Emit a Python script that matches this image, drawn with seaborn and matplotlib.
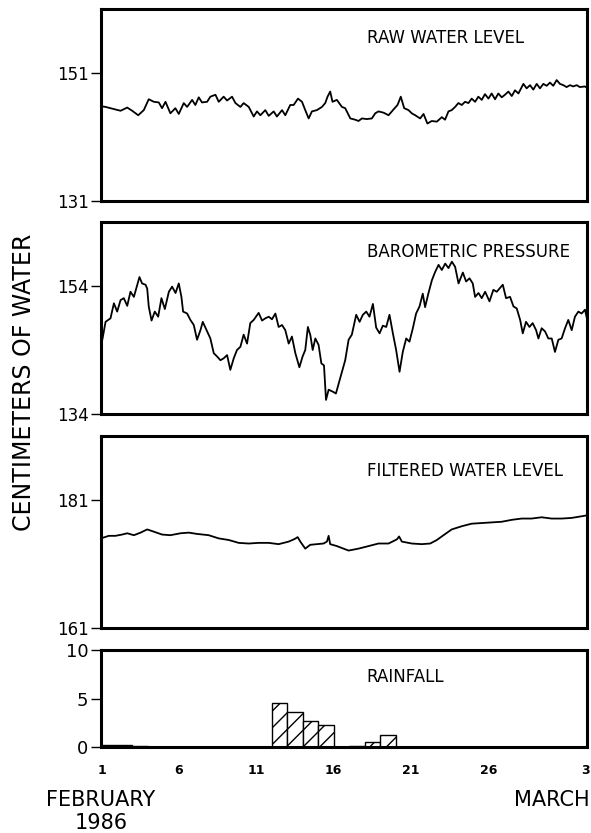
import numpy as np
import pandas as pd
import matplotlib
matplotlib.use("Agg")
import matplotlib.pyplot as plt
import seaborn as sns

sns.set_style("ticks")
plt.rcParams['font.family'] = ['DejaVu Sans']
plt.rcParams['hatch.linewidth'] = 1.0
plt.rcParams['text.color'] = 'black'
plt.rcParams['xtick.color'] = 'black'
plt.rcParams['ytick.color'] = 'black'

# days counted from 1 February 1986 (day 1 = Feb 1)
raw_days = [1.0, 1.26, 1.58, 1.90, 2.23, 2.66, 2.98, 3.37, 3.73, 4.05,
            4.38, 4.70, 4.91, 5.13, 5.45, 5.77, 5.99, 6.31, 6.53, 6.85,
            7.06, 7.28, 7.49, 7.82, 8.03, 8.36, 8.57, 8.89, 9.11, 9.43,
            9.65, 9.97, 10.18, 10.51, 10.83, 11.04, 11.26, 11.58, 11.80, 12.12,
            12.33, 12.66, 12.87, 13.19, 13.41, 13.69, 13.95, 14.16, 14.38, 14.59,
            14.91, 15.24, 15.45, 15.60, 15.77, 15.92, 16.20, 16.53, 16.74, 17.07,
            17.39, 17.60, 17.82, 18.14, 18.46, 18.68, 18.89, 19.22, 19.54, 19.86,
            20.12, 20.33, 20.55, 20.83, 21.04, 21.26, 21.58, 21.80, 22.05, 22.33,
            22.66, 22.98, 23.19, 23.41, 23.62, 23.84, 24.05, 24.27, 24.48, 24.70,
            24.91, 25.13, 25.34, 25.56, 25.77, 25.99, 26.20, 26.42, 26.63, 26.85,
            27.06, 27.28, 27.50, 27.71, 27.93, 28.25, 28.46, 28.68, 28.89, 29.11,
            29.32, 29.54, 29.75, 29.97, 30.18, 30.40, 30.61, 30.83, 31.04, 31.26,
            31.47, 31.69, 31.90, 32.22, 32.35]
raw_level = [145.8, 145.7, 145.5, 145.3, 145.1, 145.6, 145.1, 144.4, 145.2, 146.9,
             146.5, 146.4, 145.5, 146.5, 144.7, 145.5, 144.6, 146.3, 145.7, 146.8,
             146.0, 147.2, 146.4, 146.5, 147.3, 147.6, 146.5, 147.3, 146.7, 147.3,
             146.3, 145.7, 146.3, 145.7, 144.2, 145.0, 144.4, 145.2, 144.3, 145.0,
             144.2, 145.2, 144.4, 146.0, 146.0, 147.0, 146.5, 145.2, 143.9, 145.0,
             145.2, 145.7, 146.3, 147.3, 148.1, 146.5, 146.8, 145.7, 145.5, 143.9,
             143.7, 143.5, 143.9, 143.8, 143.9, 144.7, 145.0, 144.8, 144.4, 145.3,
             146.0, 147.3, 145.5, 145.2, 144.7, 144.4, 143.9, 144.6, 143.1, 143.5,
             143.4, 144.1, 143.7, 145.0, 145.2, 145.7, 146.3, 146.0, 146.5, 146.3,
             147.0, 146.5, 147.3, 146.8, 147.7, 147.0, 147.8, 146.9, 147.8, 147.2,
             147.6, 148.1, 147.4, 148.3, 147.8, 149.3, 148.6, 149.1, 148.4, 149.3,
             148.6, 149.3, 149.0, 149.5, 149.0, 149.9, 149.3, 149.1, 148.8, 149.1,
             148.9, 149.1, 148.8, 148.9, 148.7]

baro_days = [1.0, 1.09, 1.26, 1.58, 1.80, 2.01, 2.23, 2.44, 2.66, 2.87,
             3.09, 3.24, 3.45, 3.62, 3.84, 3.95, 4.05, 4.23, 4.44, 4.66,
             4.87, 5.09, 5.35, 5.56, 5.78, 5.99, 6.16, 6.27, 6.53, 6.74,
             6.96, 7.17, 7.39, 7.54, 7.82, 8.03, 8.25, 8.46, 8.68, 8.89,
             9.11, 9.32, 9.54, 9.75, 9.97, 10.18, 10.40, 10.61, 10.83, 11.15,
             11.37, 11.58, 11.80, 12.01, 12.23, 12.44, 12.66, 12.87, 13.09, 13.30,
             13.52, 13.78, 13.99, 14.16, 14.33, 14.49, 14.64, 14.81, 15.02, 15.20,
             15.37, 15.50, 15.67, 15.93, 16.14, 16.42, 16.74, 16.96, 17.17, 17.45,
             17.67, 17.88, 18.10, 18.31, 18.53, 18.74, 18.96, 19.17, 19.39, 19.60,
             19.82, 20.03, 20.25, 20.46, 20.68, 20.89, 21.11, 21.32, 21.54, 21.75,
             21.90, 22.12, 22.34, 22.55, 22.77, 22.98, 23.20, 23.41, 23.63, 23.84,
             24.06, 24.34, 24.55, 24.77, 24.98, 25.13, 25.35, 25.56, 25.78, 26.06,
             26.31, 26.53, 26.92, 27.13, 27.39, 27.61, 27.82, 28.04, 28.21, 28.42,
             28.64, 28.85, 29.07, 29.22, 29.43, 29.65, 29.86, 30.08, 30.29, 30.51,
             30.72, 30.94, 31.15, 31.37, 31.58, 31.80, 32.01, 32.23, 32.35]
baro_level = [145.0, 146.1, 148.4, 148.95, 151.3, 150.0, 151.8, 152.1, 150.9, 153.1,
              152.3, 153.6, 155.4, 154.4, 154.2, 153.6, 150.8, 148.6, 150.0, 149.2,
              152.1, 150.4, 153.1, 153.9, 152.9, 154.4, 152.3, 150.0, 149.7, 148.7,
              147.9, 145.6, 147.1, 148.4, 146.9, 145.8, 143.5, 143.0, 142.4, 142.7,
              143.2, 140.9, 142.7, 144.0, 144.5, 146.4, 145.0, 148.2, 148.7, 149.8,
              148.6, 148.95, 149.2, 148.8, 149.7, 147.6, 147.9, 147.1, 145.0, 146.1,
              143.5, 141.3, 143.0, 144.0, 147.6, 146.3, 144.0, 145.8, 144.8, 141.9,
              141.6, 136.2, 137.8, 137.5, 137.2, 139.6, 142.4, 145.6, 146.4, 149.5,
              148.4, 149.5, 150.0, 149.2, 151.2, 147.5, 146.6, 147.8, 147.6, 149.5,
              146.6, 144.0, 140.6, 143.7, 145.8, 145.3, 147.4, 149.7, 150.8, 152.8,
              150.7, 152.9, 154.9, 156.2, 157.3, 156.5, 157.5, 156.8, 157.8, 157.0,
              154.4, 156.1, 154.7, 155.2, 154.4, 152.3, 152.9, 152.1, 153.1, 151.6,
              153.4, 153.1, 154.2, 152.1, 152.3, 150.8, 150.5, 148.7, 146.6, 148.4,
              147.6, 148.2, 147.1, 145.8, 147.4, 146.9, 145.8, 145.8, 143.7, 145.6,
              145.8, 147.4, 148.7, 147.1, 149.2, 150.0, 149.7, 150.3, 148.95]

filt_days = [1.0, 1.09, 1.47, 1.90, 2.33, 2.66, 3.09, 3.52, 3.95, 4.38,
             4.91, 5.45, 6.10, 6.63, 7.17, 7.92, 8.57, 9.22, 9.86, 10.51,
             11.15, 11.80, 12.44, 13.09, 13.47, 13.67, 13.84, 14.16, 14.48, 14.91,
             15.34, 15.56, 15.67, 15.77, 16.20, 16.63, 16.96, 17.60, 18.25, 18.89,
             19.54, 20.08, 20.22, 20.40, 21.04, 21.69, 22.23, 22.66, 23.09, 23.62,
             24.27, 24.91, 25.56, 26.20, 26.85, 27.50, 28.14, 28.78, 29.43, 30.07,
             30.72, 31.37, 32.12, 32.35]
filt_level = [175.0, 175.1, 175.4, 175.4, 175.6, 175.8, 175.5, 175.9, 176.4, 176.05,
              175.6, 175.5, 175.8, 175.9, 175.7, 175.5, 175.0, 174.75, 174.3, 174.2,
              174.3, 174.3, 174.1, 174.5, 174.9, 175.2, 174.5, 173.4, 174.0, 174.1,
              174.2, 174.5, 175.4, 174.1, 173.8, 173.4, 173.1, 173.4, 173.8, 174.2,
              174.2, 174.85, 175.3, 174.5, 174.2, 174.1, 174.2, 174.75, 175.5, 176.4,
              176.9, 177.3, 177.4, 177.5, 177.6, 177.9, 178.1, 178.1, 178.3, 178.1,
              178.1, 178.2, 178.5, 178.6]

rain_days = [1, 2, 3, 12, 13, 14, 15, 17, 18, 19]
rain_cm = [0.2, 0.2, 0.1, 4.5, 3.6, 2.7, 2.3, 0.1, 0.5, 1.2]

raw = pd.DataFrame({'day': raw_days, 'level': raw_level})
baro = pd.DataFrame({'day': baro_days, 'level': baro_level})
filt = pd.DataFrame({'day': filt_days, 'level': filt_level})
rain = pd.DataFrame({'day': rain_days, 'cm': rain_cm})

fig = plt.figure(figsize=(5.91, 8.33), dpi=100)
left, width = 0.171, 0.822
ax1 = fig.add_axes([left, 0.7587, width, 0.2305])
ax2 = fig.add_axes([left, 0.5030, width, 0.2305])
ax3 = fig.add_axes([left, 0.2461, width, 0.2305])
ax4 = fig.add_axes([left, 0.1032, width, 0.1164])

line_kw = dict(color='black', linewidth=1.3, estimator=None, sort=False)
sns.lineplot(data=raw, x='day', y='level', ax=ax1, **line_kw)
sns.lineplot(data=baro, x='day', y='level', ax=ax2, **line_kw)
sns.lineplot(data=filt, x='day', y='level', ax=ax3, **line_kw)
sns.histplot(data=rain, x='day', weights='cm', binwidth=1, binrange=(1, 32),
             ax=ax4, color='white', edgecolor='black', linewidth=1.0, alpha=1,
             hatch='//')

panels = [(ax1, 131, 161, [131, 151], 'RAW WATER LEVEL', 0.85),
          (ax2, 134, 164, [134, 154], 'BAROMETRIC PRESSURE', 0.844),
          (ax3, 161, 191, [161, 181], 'FILTERED WATER LEVEL', 0.82),
          (ax4, 0, 10, [0, 5, 10], 'RAINFALL', 0.72)]

for ax, lo, hi, yt, title, ty in panels:
    ax.set_xlim(0.97, 32.35)
    ax.set_ylim(lo, hi)
    ax.set_yticks(yt)
    ax.set_xlabel('')
    ax.set_ylabel('')
    for s in ax.spines.values():
        s.set_visible(True)
        s.set_linewidth(2.2)
        s.set_color('black')
    ax.tick_params(axis='y', direction='out', length=7, width=1, pad=2,
                   labelsize=12, colors='black')
    ax.tick_params(axis='x', length=0)
    ax.set_xticks([])
    ax.text(0.547, ty, title, transform=ax.transAxes, fontsize=12,
            ha='left', va='center', color='black')

ax4.tick_params(axis='y', labelsize=13)
ax4.set_xticks([1, 6, 11, 16, 21, 26, 32.25])
ax4.set_xticklabels(['1', '6', '11', '16', '21', '26', '3'],
                    fontsize=9, fontweight='bold')
ax4.tick_params(axis='x', length=0, pad=12, colors='black')

fig.text(0.171, 1 - 800 / 833, 'FEBRUARY', fontsize=15, ha='center', va='center')
fig.text(0.171, 1 - 823 / 833, '1986', fontsize=15, ha='center', va='center')
fig.text(0.998, 1 - 800 / 833, 'MARCH', fontsize=15, ha='right', va='center')
fig.text(0.04, 1 - 382 / 833, 'CENTIMETERS OF WATER', rotation=90,
         fontsize=17, ha='center', va='center')

fig.savefig('out.png', dpi=100, facecolor='white')
